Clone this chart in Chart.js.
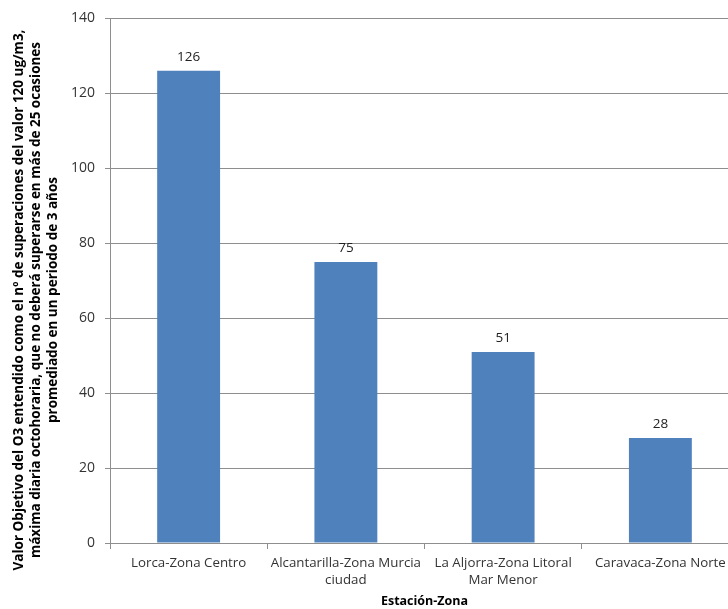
<!DOCTYPE html>
<html>
<head>
<meta charset="utf-8">
<script src="https://cdn.jsdelivr.net/npm/chart.js@4/dist/chart.umd.min.js"></script>
<style>
  html, body { margin: 0; padding: 0; background: #fff; overflow: hidden; }
  #chart { display: block; }
</style>
</head>
<body>
<canvas id="chart" width="739" height="609"></canvas>
<script>
// estaciones y valores
const estaciones = [
  'Lorca-Zona Centro',
  ['Alcantarilla-Zona Murcia', 'ciudad'],
  ['La Aljorra-Zona Litoral', 'Mar Menor'],
  'Caravaca-Zona Norte'
];
const valores = [126, 75, 51, 28];
const yTitulo = [
  'Valor Objetivo del O3 entendido como el nº de superaciones del valor 120 ug/m3,',
  'máxima diaria octohoraria, que no deberá superarse en más de 25 ocasiones',
  'promediado en un periodo de 3 años'
];
const xTitulo = 'Estación-Zona';

const FONT = '"Open Sans", "Noto Sans", sans-serif';

// etiquetas de valor encima de cada barra
const etiquetasPlugin = {
  id: 'etiquetas',
  afterDatasetsDraw(chart) {
    const ctx = chart.ctx;
    const meta = chart.getDatasetMeta(0);
    ctx.save();
    ctx.font = '13.5px ' + FONT;
    ctx.fillStyle = '#222';
    ctx.textAlign = 'center';
    ctx.textBaseline = 'middle';
    meta.data.forEach((bar, i) => {
      ctx.fillText(String(valores[i]), bar.x, bar.y - 14);
    });
    ctx.restore();
  }
};

// título del eje Y (Excel lo centra un poco más abajo que el área del gráfico)
const tituloYPlugin = {
  id: 'tituloY',
  afterDraw(chart) {
    const ctx = chart.ctx;
    ctx.save();
    ctx.translate(19, 300);
    ctx.rotate(-Math.PI / 2);
    ctx.font = 'bold 13.5px ' + FONT;
    ctx.fillStyle = '#000';
    ctx.textAlign = 'center';
    ctx.textBaseline = 'middle';
    yTitulo.forEach((linea, i) => ctx.fillText(linea, 0, i * 17));
    ctx.restore();
  }
};

new Chart(document.getElementById('chart'), {
  type: 'bar',
  data: {
    labels: estaciones,
    datasets: [{
      data: valores,
      backgroundColor: '#4F81BD',
      borderWidth: 0,
      barPercentage: 1,
      categoryPercentage: 0.4
    }]
  },
  options: {
    responsive: false,
    animation: false,
    layout: { padding: { top: 17, right: 0, bottom: 0, left: 0 } },
    plugins: {
      legend: { display: false },
      tooltip: { enabled: false }
    },
    scales: {
      y: {
        min: 0,
        max: 140,
        ticks: {
          stepSize: 20,
          padding: 10,
          color: '#333',
          font: { family: FONT, size: 14 }
        },
        grid: { color: '#8e8e8e', tickLength: 5 },
        border: { color: '#8e8e8e' },
        afterFit(scale) { scale.width = 110; }
      },
      x: {
        ticks: {
          padding: 6,
          color: '#333',
          maxRotation: 0,
          autoSkip: false,
          font: { family: FONT, size: 13.3, lineHeight: 1.25 }
        },
        grid: { drawOnChartArea: false, color: '#8e8e8e', tickLength: 6 },
        border: { color: '#8e8e8e' },
        title: {
          display: true,
          text: xTitulo,
          color: '#000',
          padding: { top: 0, bottom: 0 },
          font: { family: FONT, size: 12.5, weight: 'bold' }
        },
        afterFit(scale) { scale.height = 66; }
      }
    }
  },
  plugins: [etiquetasPlugin, tituloYPlugin]
});
</script>
</body>
</html>
